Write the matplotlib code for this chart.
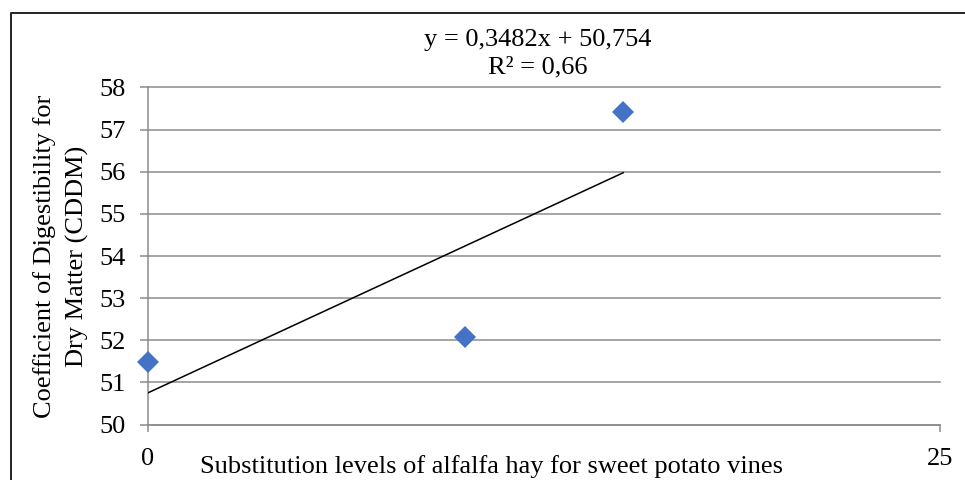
import matplotlib
matplotlib.use("Agg")
import matplotlib.pyplot as plt
from matplotlib.lines import Line2D
import numpy as np

# Data
levels = [0, 10, 15]
cddm = [51.48, 52.07, 57.42]
slope = 0.3482
intercept = 50.754
eq_text = "y = 0,3482x + 50,754\nR² = 0,66"
xlabel = "Substitution levels of alfalfa hay for sweet potato vines"
ylabel = "Coefficient of Digestibility for\nDry Matter (CDDM)"
yticks = [50, 51, 52, 53, 54, 55, 56, 57, 58]
xticks = [0, 25]

W, H = 965, 480
plt.rcParams['font.family'] = ['Liberation Serif', 'DejaVu Serif']
fig = plt.figure(figsize=(W / 100, H / 100), dpi=100)
ax = fig.add_axes([148 / W, 1 - 424.6 / H, (940 - 148) / W, (424.6 - 87.5) / H])

FS = 19
grey = '#8c8c8c'
ax.set_xlim(0, 25)
ax.set_ylim(50, 58)
ax.set_yticks(yticks)
ax.set_xticks(xticks)
ax.grid(axis='y', color=grey, linewidth=1.1)
for gl in ax.get_ygridlines():
    gl.set_clip_on(False)
ax.set_axisbelow(True)
for s in ['top', 'right']:
    ax.spines[s].set_visible(False)
for s in ['left', 'bottom']:
    ax.spines[s].set_color(grey)
    ax.spines[s].set_linewidth(1.1)
ax.tick_params(axis='y', direction='out', length=6, width=1.1, color=grey,
               labelsize=FS, pad=10)
ax.tick_params(axis='x', direction='out', length=5, width=1.1, color=grey,
               labelsize=FS, pad=12)

# trendline
xt = np.array([min(levels), max(levels)])
ax.plot(xt, slope * xt + intercept, color='black', linewidth=1.1, zorder=3)
ax.plot(levels, cddm, linestyle='none', marker='D', markersize=11.5,
        color='#4472C4', markeredgewidth=0, zorder=4, clip_on=False)

fig.text(538 / W, 1 - 54 / H, eq_text, ha='center', va='center', fontsize=FS,
         linespacing=1.3)
fig.text(492 / W, 1 - 467 / H, xlabel, ha='center', va='center', fontsize=FS)
fig.text(61 / W, 1 - 256 / H, ylabel, ha='center', va='center', fontsize=FS,
         rotation=90, multialignment='center', linespacing=1.55)

# outer frame
fx = 11 / W
fy = 1 - 13 / H
fig.add_artist(Line2D([fx, fx, 1.01], [-0.01, fy, fy], transform=fig.transFigure,
                      color='#222222', linewidth=1.4))

fig.savefig('out.png', dpi=100)
